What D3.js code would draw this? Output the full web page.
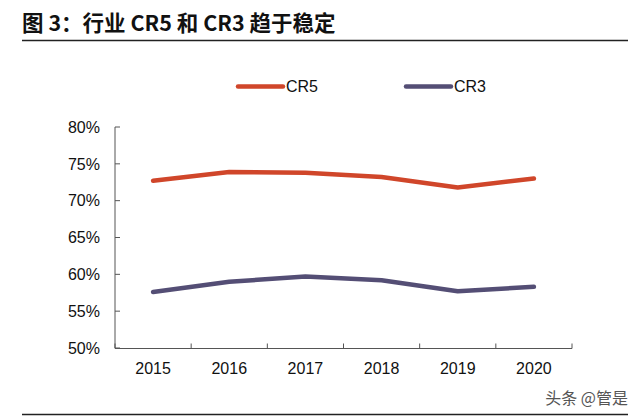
<!DOCTYPE html>
<html><head><meta charset="utf-8">
<script src="https://cdn.jsdelivr.net/npm/d3@7/dist/d3.min.js"></script>
<style>body{margin:0;background:#fff}svg{display:block}</style>
</head><body>
<svg id="c" width="640" height="418"></svg>
<script>
const years = ["2015","2016","2017","2018","2019","2020"];
const cr5 = [72.7, 73.9, 73.8, 73.2, 71.8, 73.0];
const cr3 = [57.6, 59.0, 59.7, 59.2, 57.7, 58.3];
const yTicks = [50, 55, 60, 65, 70, 75, 80];
const seriesNames = ["CR5", "CR3"];
const colors = ["#d0462a", "#544e75"];

const svg = d3.select("#c");
const font = "'Liberation Sans', Arial, sans-serif";

// title
svg.append("text").attr("x", 22).attr("y", 31)
  .attr("font-family", "'Noto Sans CJK SC', sans-serif").attr("font-weight", 700)
  .attr("font-size", 21.5).attr("fill", "#111")
  .text("图 3：行业 CR5 和 CR3 趋于稳定");
svg.append("line").attr("x1", 22).attr("x2", 628).attr("y1", 40.5).attr("y2", 40.5)
  .attr("stroke", "#222").attr("stroke-width", 1.6);

const x = d3.scaleBand().domain(years).range([115, 572]);
const y = d3.scaleLinear().domain([50, 80]).range([348, 127]);

// y axis
const gy = svg.append("g").attr("transform", "translate(115,0)");
gy.append("line").attr("y1", y(80)).attr("y2", y(50)).attr("stroke", "#555");
gy.selectAll(".t").data(yTicks).join("line")
  .attr("x1", 0).attr("x2", 5).attr("y1", d => y(d)).attr("y2", d => y(d)).attr("stroke", "#555");
gy.selectAll("text").data(yTicks).join("text")
  .attr("x", -15).attr("y", d => y(d)).attr("dy", "0.36em").attr("text-anchor", "end")
  .attr("font-family", font).attr("font-size", 16).attr("fill", "#111")
  .text(d => d + "%");

// x axis
const gx = svg.append("g");
gx.append("line").attr("x1", 115).attr("x2", 572).attr("y1", 348.5).attr("y2", 348.5).attr("stroke", "#555");
const bounds = years.map(d => x(d)).concat([x.range()[1]]);
gx.selectAll(".t").data(bounds).join("line")
  .attr("x1", d => d).attr("x2", d => d).attr("y1", 348.5).attr("y2", 343.5).attr("stroke", "#555");
gx.selectAll("text").data(years).join("text")
  .attr("x", d => x(d) + x.bandwidth() / 2).attr("y", 374).attr("text-anchor", "middle")
  .attr("font-family", font).attr("font-size", 16).attr("fill", "#111")
  .text(d => d);

// lines
const line = d3.line().x((d, i) => x(years[i]) + x.bandwidth() / 2).y(d => y(d));
[cr5, cr3].forEach((s, i) => {
  svg.append("path").attr("d", line(s)).attr("fill", "none")
    .attr("stroke", colors[i]).attr("stroke-width", 4.5)
    .attr("stroke-linecap", "round").attr("stroke-linejoin", "round");
});

// legend
const legX = [238, 406];
seriesNames.forEach((n, i) => {
  svg.append("line").attr("x1", legX[i]).attr("x2", legX[i] + 45).attr("y1", 86.5).attr("y2", 86.5)
    .attr("stroke", colors[i]).attr("stroke-width", 4.5).attr("stroke-linecap", "round");
  svg.append("text").attr("x", legX[i] + 48).attr("y", 86.5).attr("dy", "0.36em")
    .attr("font-family", font).attr("font-size", 16).attr("fill", "#111").text(n);
});

// watermark and bottom rule
svg.append("text").attr("x", 628).attr("y", 404).attr("text-anchor", "end")
  .attr("font-family", "'Noto Sans CJK SC', sans-serif").attr("font-size", 16).attr("fill", "#555")
  .text("头条 @管是");
svg.append("line").attr("x1", 22).attr("x2", 628).attr("y1", 414.5).attr("y2", 414.5)
  .attr("stroke", "#222").attr("stroke-width", 1.6);
</script>
</body></html>
